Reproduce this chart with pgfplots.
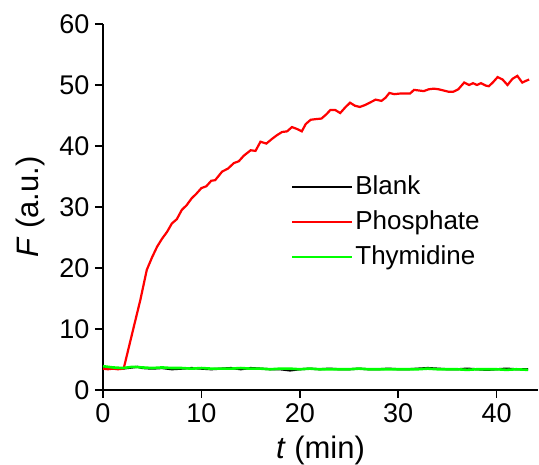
\documentclass[border=0pt]{standalone}
\usepackage{pgfplots}
\pgfplotsset{compat=1.18}
\usepackage{fontspec}
\setmainfont{Liberation Sans}
\definecolor{pred}{RGB}{255,0,0}
\definecolor{pgreen}{RGB}{0,255,0}
\pgfplotstableread{
t F
0 3.5
0.5 3.4
1.0 3.5
1.5 3.4
2.1 3.5
3.0 9.5
3.8 14.8
4.45 19.7
5.0 21.8
5.5 23.5
6.0 24.8
6.5 25.9
7.0 27.3
7.5 28.0
8.0 29.5
8.5 30.3
9.0 31.4
9.5 32.2
10.0 33.1
10.5 33.4
11.0 34.3
11.4 34.4
12.1 35.8
12.7 36.3
13.3 37.2
13.8 37.5
14.3 38.4
15.0 39.3
15.5 39.2
16.0 40.7
16.6 40.4
17.2 41.2
17.7 41.8
18.2 42.3
18.7 42.4
19.2 43.1
19.7 42.8
20.2 42.4
20.6 43.6
21.1 44.3
21.6 44.4
22.2 44.5
22.7 45.2
23.1 45.9
23.6 45.9
24.1 45.4
24.6 46.3
25.1 47.1
25.6 46.6
26.1 46.4
26.6 46.7
27.1 47.1
27.7 47.6
28.3 47.4
28.7 47.9
29.1 48.7
29.6 48.5
30.2 48.6
30.7 48.6
31.2 48.6
31.6 49.2
32.1 49.1
32.6 49.0
33.1 49.3
33.6 49.4
34.1 49.3
34.6 49.1
35.1 48.9
35.6 48.9
36.1 49.3
36.7 50.4
37.2 50.0
37.6 50.3
38.0 50.0
38.4 50.3
38.9 49.9
39.2 49.8
39.6 50.4
40.1 51.3
40.6 50.9
41.1 50.0
41.6 51.0
42.1 51.5
42.6 50.4
43.0 50.7
43.3 50.9
}\phosphatedata
\pgfplotstableread{
t F
0 3.7
1 3.5
2 3.5
3 3.7
3.5 3.8
4 3.6
5 3.5
6 3.6
7 3.4
8 3.5
9 3.6
10 3.5
11 3.4
12 3.5
13 3.6
14 3.4
15 3.6
16 3.5
17 3.4
18 3.4
19 3.2
20 3.4
21 3.5
22 3.4
23 3.5
24 3.4
25 3.4
26 3.5
27 3.4
28 3.4
29 3.5
30 3.4
31 3.4
32 3.5
33 3.6
34 3.5
35 3.4
36 3.4
37 3.5
38 3.4
39 3.3
40 3.4
41 3.5
42 3.4
43.2 3.4
}\blankdata
\pgfplotstableread{
t F
0 3.9
1 3.7
2 3.6
3 3.8
4 3.7
5 3.6
6 3.7
7 3.6
8 3.6
9 3.5
10 3.6
11 3.5
12 3.5
13 3.5
14 3.6
15 3.5
16 3.5
17 3.4
18 3.5
19 3.5
20 3.4
21 3.5
22 3.4
23 3.4
24 3.4
25 3.4
26 3.5
27 3.4
28 3.4
29 3.4
30 3.4
31 3.4
32 3.4
33 3.5
34 3.4
35 3.4
36 3.4
37 3.3
38 3.4
39 3.4
40 3.4
41 3.3
42 3.4
43.2 3.3
}\thymidinedata
\begin{document}
\begin{tikzpicture}
\begin{axis}[
  name=ax,
  scale only axis,
  width=435pt, height=366pt,
  xmin=0, xmax=44.2, ymin=0, ymax=60,
  axis lines=left,
  axis line style={-, line width=1.6pt},
  xtick={0,10,20,30,40},
  ytick={0,10,20,30,40,50,60},
  tick align=outside,
  major tick length=8pt,
  major tick style={black, line width=1.6pt},
  /pgf/number format/assume math mode=true,
  ticklabel style={font=\fontsize{27}{30}\selectfont},
  xticklabel style={yshift=-2pt},
  yticklabel style={xshift=-2pt},
  xlabel={\textit{t} (min)},
  ylabel={\textit{F} (a.u.)},
  label style={font=\fontsize{31}{34}\selectfont},
  xlabel style={yshift=-7pt},
  ylabel style={yshift=8pt},
  legend style={at={(axis cs:19.1,35.6)}, anchor=north west, draw=none, fill=none,
    font=\fontsize{26}{28}\selectfont, inner sep=0pt, row sep=7pt,
    nodes={inner sep=2pt, text height=19pt, text depth=5pt},
    /tikz/every even column/.append style={column sep=4pt}},
  legend cell align=left,
  legend image code/.code={\draw[#1, line width=2.2pt] (0pt,0pt) -- (60pt,0pt);},
]
\addplot[draw=black, line width=2.2pt] table[x=t,y=F] {\blankdata};
\addlegendentry{Blank}
\addplot[draw=pred, line width=2.2pt] table[x=t,y=F] {\phosphatedata};
\addlegendentry{Phosphate}
\addplot[draw=pgreen, line width=2.6pt] table[x=t,y=F] {\thymidinedata};
\addlegendentry{Thymidine}
\end{axis}
\pgfresetboundingbox
\path (-103pt,-75pt) rectangle (436pt,390pt);
\end{tikzpicture}
\end{document}
